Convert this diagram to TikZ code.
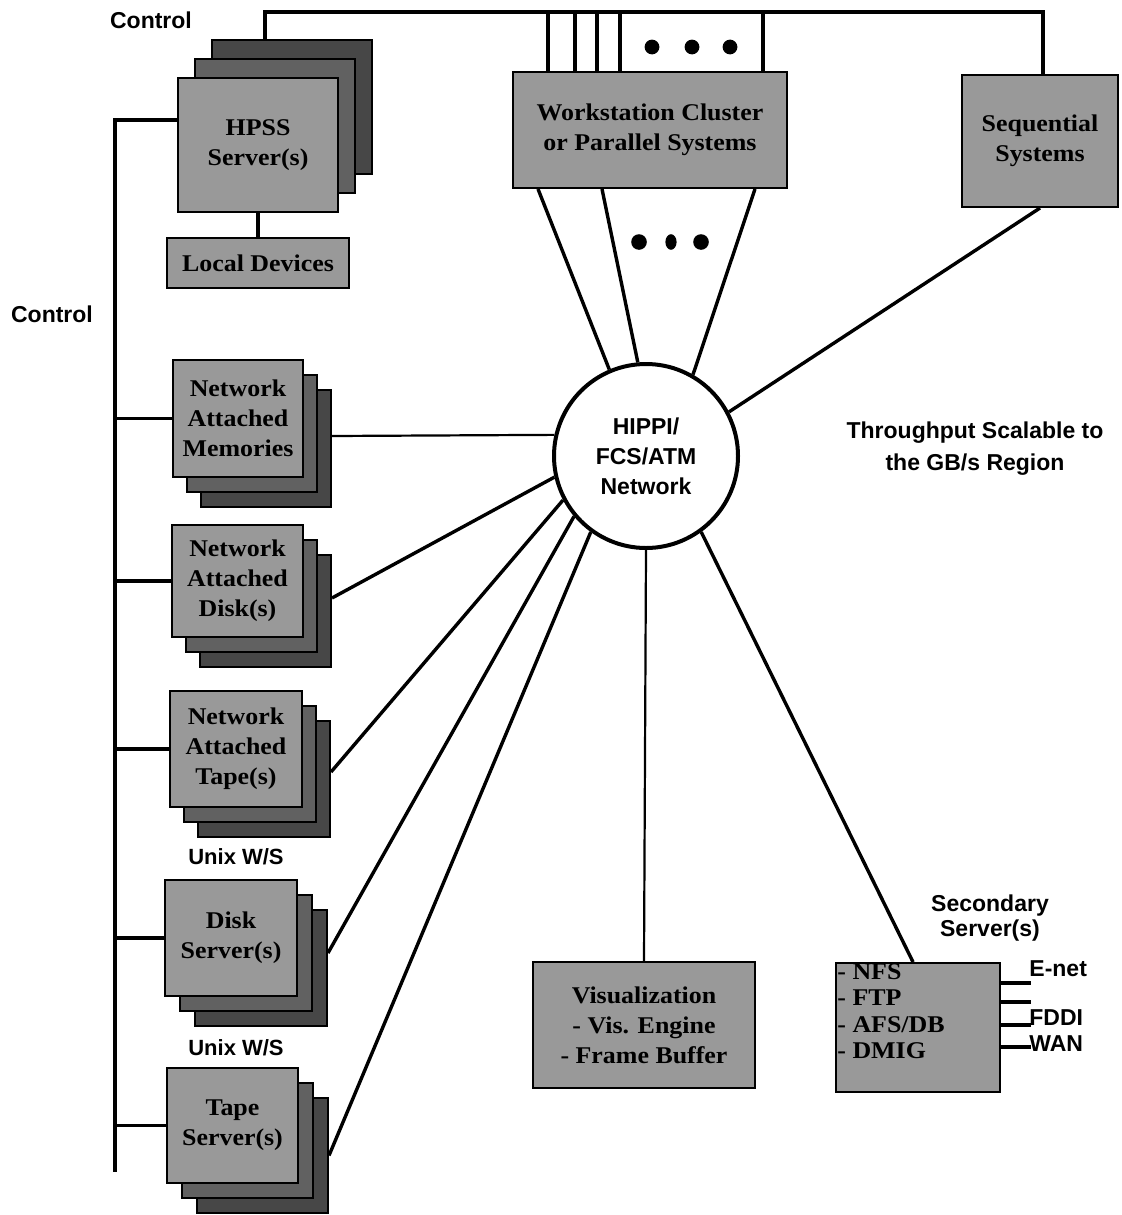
\documentclass[tikz,border=0pt]{standalone}
\usepackage{fontspec}
\setmainfont{Liberation Sans}
\newfontfamily\boxfont{Liberation Serif}[FakeStretch=1.08]
\usetikzlibrary{calc}

% three stacked cards: name, x, y, width, height, dx, dy, text
\newcommand\layered[8]{%
  \node[deepbox, minimum width=#4, minimum height=#5] (#1-3) at ({#2+2*(#6)},{#3+2*(#7)}) {};
  \node[midbox, minimum width=#4, minimum height=#5] (#1-2) at ({#2+#6},{#3+#7}) {};
  \node[frontbox, minimum width=#4, minimum height=#5] (#1) at (#2,#3) {#8};
}

\tikzset{
  wire/.style={line width=1.7pt},
  thinwire/.style={line width=1.1pt},
  frontbox/.style={draw, line width=1pt, fill=black!40, inner sep=0pt, align=center,
    font=\boxfont\bfseries\fontsize{12}{15}\selectfont},
  midbox/.style={draw, line width=1pt, fill=black!62, inner sep=0pt},
  deepbox/.style={draw, line width=1pt, fill=black!72, inner sep=0pt},
  lbl/.style={inner sep=0pt, align=center, font=\bfseries\fontsize{11.5}{16}\selectfont},
}

\begin{document}
\begin{tikzpicture}[x=0.5pt, y=-0.5pt]
\useasboundingbox (0,0) rectangle (1121,1215);

% ---- server stacks on the control bus
\layered{hpss}{258}{145}{80pt}{67pt}{17}{-19}{HPSS\\Server(s)}
\node[frontbox, minimum width=91pt, minimum height=25pt] (ldev) at (258,263) {Local Devices};

\layered{nam}{238}{418.5}{65pt}{58.5pt}{14}{15}{Network\\Attached\\Memories}
\layered{nad}{237.5}{581}{65.5pt}{56pt}{14}{15}{Network\\Attached\\Disk(s)}
\layered{nat}{236}{749}{66pt}{58pt}{14}{15}{Network\\Attached\\Tape(s)}
\layered{ds}{231}{938}{66pt}{58pt}{15}{15}{Disk\\Server(s)}
\layered{ts}{232.5}{1125.5}{65.5pt}{57.5pt}{15}{15}{Tape\\Server(s)}

% ---- compute systems
\node[frontbox, minimum width=137pt, minimum height=58pt] (ws) at (650,130)
  {Workstation Cluster\\or Parallel Systems};
\node[frontbox, minimum width=78pt, minimum height=66pt] (seq) at (1040,141)
  {Sequential\\Systems};

% ---- network hub
\node[circle, draw, line width=2pt, minimum size=92pt, inner sep=0pt,
  font=\bfseries\fontsize{11.5}{15}\selectfont, align=center] (net) at (646,456)
  {HIPPI/\\FCS/ATM\\Network};

% ---- peripherals below the hub
\node[frontbox, minimum width=111pt, minimum height=63pt] (vis) at (644,1025)
  {Visualization\\- Vis. Engine\\- Frame Buffer};
\node[frontbox, minimum width=82pt, minimum height=64.5pt] (sec) at (918,1027.5) {};
\node[anchor=north west, inner sep=0pt, align=left,
  font=\boxfont\bfseries\fontsize{12}{13.2}\selectfont] (sectxt)
  at ([xshift=1pt,yshift=-0.5pt]sec.north west) {- NFS\\- FTP\\- AFS/DB\\- DMIG};

% ---- labels
\node[lbl] (ctltop) at (151,20) {Control};
\node[lbl] (ctlleft) at (52,314) {Control};
\node[lbl, font=\bfseries\fontsize{11}{13}\selectfont] (unix1) at (236,857) {Unix W/S};
\node[lbl, font=\bfseries\fontsize{11}{13}\selectfont] (unix2) at (236,1048) {Unix W/S};
\node[lbl] (thru) at (975,449) {Throughput Scalable to\\the GB/s Region};
\node[lbl, font=\bfseries\fontsize{11.5}{12.5}\selectfont] (seclbl) at (990,918) {Secondary\\Server(s)};
\node[lbl, anchor=west] (enet) at (1029,969) {E-net};
\node[lbl, anchor=west] (fddi) at (1029,1018) {FDDI};
\node[lbl, anchor=west] (wan) at (1029,1044) {WAN};

% ---- control bus along the top
\draw[wire] ([xshift=-13.5pt]hpss-3.north) -- ++(0,-27) -| ([xshift=1.5pt]seq.north);
\foreach \dx in {-51pt,-37.5pt,-26.5pt,-15pt,56.5pt}
  \draw[wire] ([xshift=\dx]ws.north) -- ++(0,-59);
\foreach \px in {652,692,730}
  \fill (\px,47) circle (3.7pt);
\draw[wire] (hpss.south) -- (ldev.north);

% ---- control bus on the left
\coordinate (bustop) at (115,120);
\coordinate (busend) at (115,1172);
\draw[wire] ([yshift=12.5pt]hpss.west) -- (bustop) -- (busend);
\foreach \n in {nam,nad,nat,ds,ts}
  \draw[wire] (\n.west) -- (\n.west -| bustop);

% ---- data paths into the hub
\draw[wire] ([xshift=-56pt]ws.south) -- (net.113.8);
\draw[wire] ([xshift=-24pt]ws.south) -- (net.95);
\draw[wire] ([xshift=52.5pt]ws.south) -- (net.60.5);
\fill (639,242) circle (3.9pt);
\fill (671,242) ellipse (2.8pt and 3.9pt);
\fill (701,242) circle (3.9pt);
\draw[wire] (seq.south) -- (net.28);
\draw[thinwire] ([yshift=6.25pt]nam-3.east) -- (net.167.5);
\draw[wire] ([yshift=6.5pt]nad-3.east) -- (net.193.6);
\draw[wire] ([yshift=3.5pt]nat-3.east) -- (net.208.7);
\draw[wire] ([yshift=7.5pt]ds-3.east) -- (net.220.3);
\draw[wire] (ts-3.east) -- (net.234.7);
\draw[thinwire] (net.south) -- (vis.north);
\draw[wire] ([xshift=-2.5pt]sec.north) -- (net.306);

% ---- secondary server outlets
\foreach \dy in {22.25pt,12.75pt,1.25pt,-9.75pt}
  \draw[line width=2pt] ([yshift=\dy]sec.east) -- ++(30,0);
\end{tikzpicture}
\end{document}
